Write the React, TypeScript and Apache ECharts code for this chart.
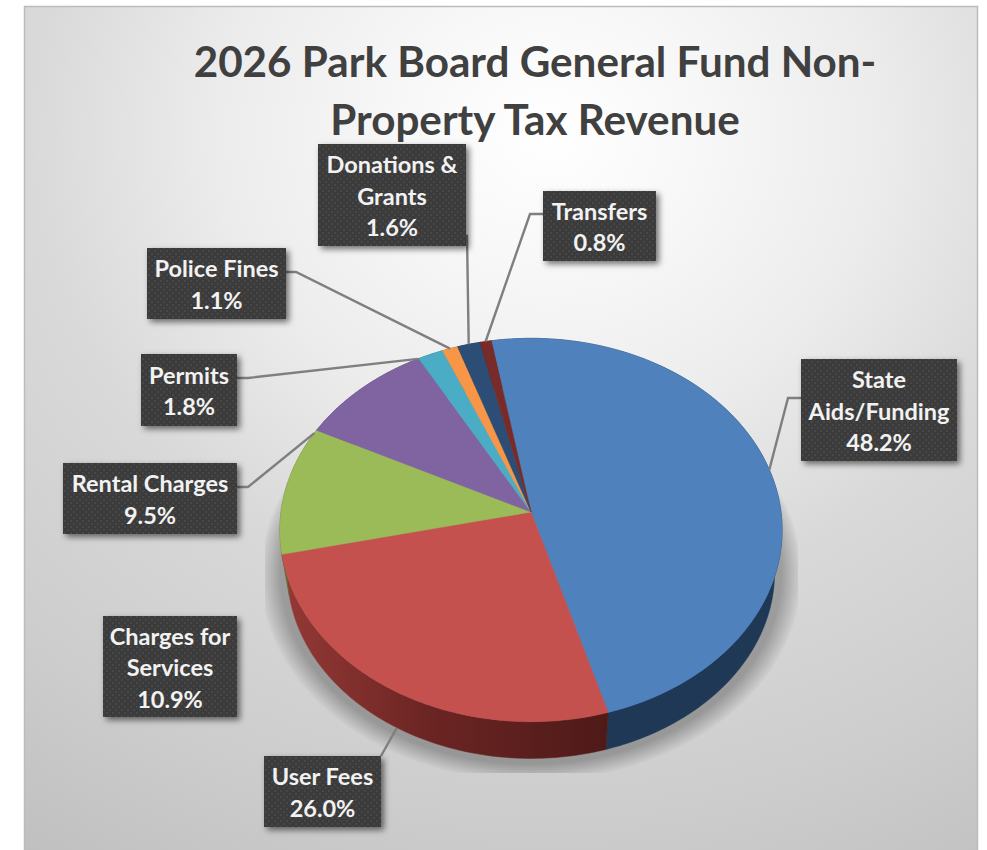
import React, { useEffect, useRef } from "react";
import * as echarts from "echarts";

// ---- data ----
const titleText = "2026 Park Board General Fund Non-\nProperty Tax Revenue";
const categories = ["State\nAids/Funding", "User Fees", "Charges for\nServices", "Rental Charges", "Permits", "Police Fines", "Donations &\nGrants", "Transfers"];
const percents = [48.2, 26.0, 10.9, 9.5, 1.8, 1.1, 1.6, 0.8];

// ---- styles ----
const topColors = ["#4f81bd", "#c5514e", "#9bbb59", "#8064a2", "#4bacc6", "#f79646", "#2c4d75", "#772c2a"];
const sideColors: any[] = [
  "#1e3856",
  new echarts.graphic.LinearGradient(0, 0, 1, 0, [
    { offset: 0, color: "#953936" },
    { offset: 0.45, color: "#6b2523" },
    { offset: 1, color: "#4e1a18" },
  ]),
  "#5d7038", "#4d3c61", "#2d6777", "#94592a", "#1a2e46", "#471a19",
];
// box: x, y, w, h; elbow: where the leader bends; lower: leader goes to the lower rim; anchor: rim angle override
const labelLayout: any[] = [
  { box: [801, 359, 156, 102], from: [801, 398], elbow: [788, 398] },
  { box: [264, 756, 117, 71], from: [381, 756], lower: true },
  { box: [103, 616, 134, 101] },
  { box: [63, 463, 174, 71], from: [237, 487], elbow: [248, 487], anchor: 295.6 },
  { box: [141, 354, 96, 72], from: [237, 378], elbow: [248, 378], anchor: 330.7 },
  { box: [147, 248, 139, 71], from: [286, 272], elbow: [296, 272] },
  { box: [318, 144, 148, 102], from: [466, 236], elbow: [467, 236] },
  { box: [543, 191, 113, 70], from: [543, 214], elbow: [530, 214] },
];

// ---- tilted pie geometry (a disc under a perspective) ----
const startAngle = -10;
const cx = 531, cy = 512, A = 250, B = 190, K = 0.094;
const sideScale = 0.97, sideDrop = 43;
const shadowScales = [1.0, 1.006, 1.012, 1.018, 1.024, 1.03, 1.036, 1.042, 1.048, 1.054, 1.06, 1.066, 1.072, 1.078];
const shadowClip = { left: 265, right: 798, bottom: 773 };

const total = percents.reduce((a, b) => a + b, 0);
const bounds: number[] = [startAngle];
percents.forEach((p) => bounds.push(bounds[bounds.length - 1] + (p / total) * 360));

function rim(deg: number, s = 1, dy = 0): number[] {
  const t = (deg * Math.PI) / 180;
  const u = Math.sin(t), v = -Math.cos(t), w = 1 - K * v;
  return [cx + (s * A * u) / w, cy + dy + (s * B * v) / w];
}
function arc(a0: number, a1: number, s = 1, dy = 0): number[][] {
  const n = Math.max(4, Math.ceil(Math.abs(a1 - a0)));
  const out: number[][] = [];
  for (let i = 0; i <= n; i++) out.push(rim(a0 + ((a1 - a0) * i) / n, s, dy));
  return out;
}

function dotPattern(): any {
  const c = document.createElement("canvas");
  c.width = 6; c.height = 6;
  const g = c.getContext("2d")!;
  g.fillStyle = "#3a3a3a"; g.fillRect(0, 0, 6, 6);
  g.fillStyle = "#474747";
  g.fillRect(1, 1, 2, 2);
  g.fillRect(4, 4, 2, 2);
  return { image: c, repeat: "repeat" };
}

export default function App() {
  const ref = useRef<HTMLDivElement>(null);
  useEffect(() => {
    const chart = echarts.init(ref.current!, null, { renderer: "svg" });
    const pattern = dotPattern();
    const font = "Lato, 'Open Sans', sans-serif";
    const pieData = percents.map((p, i) => ({ name: categories[i].replace("\n", " "), value: p }));
    chart.setOption({
      animation: false,
      tooltip: { show: false },
      title: {
        text: titleText, left: 530, top: 26, textAlign: "center", z: 1,
        textStyle: { fontFamily: font, fontSize: 42.2, fontWeight: 700, color: "#404040", lineHeight: 58 },
      },
      graphic: [{
        type: "rect", z: 0, silent: true, shape: { x: 24.5, y: 6.5, width: 953, height: 850 },
        style: {
          stroke: "#bcbcbc", lineWidth: 1.5,
          fill: new echarts.graphic.RadialGradient(0.55, 0.15, 1.05, [
            { offset: 0, color: "#ffffff" },
            { offset: 0.14, color: "#f8f8f8" },
            { offset: 0.33, color: "#ececec" },
            { offset: 0.52, color: "#d9d9d9" },
            { offset: 0.76, color: "#cdcdcd" },
            { offset: 1, color: "#bdbdbd" },
          ]),
        },
      }],
      series: [
        {
          type: "custom", coordinateSystem: "none", z: 2, silent: true, data: [total],
          renderItem: () => ({
            type: "group",
            children: shadowScales.map((s) => ({
              type: "polygon",
              shape: {
                points: arc(0, 360, s, sideDrop).map(([x, y]) => [
                  Math.min(shadowClip.right, Math.max(shadowClip.left, x)),
                  Math.min(shadowClip.bottom, y),
                ]),
              },
              style: { fill: "rgba(0,0,0,0.02)" },
            })),
          }),
        },
        {
          type: "custom", coordinateSystem: "none", z: 3, silent: true, data: pieData,
          renderItem: (p: any) => {
            const i = p.dataIndex;
            const top = arc(bounds[i], bounds[i + 1]);
            const bottom = arc(bounds[i], bounds[i + 1], sideScale, sideDrop).reverse();
            return { type: "polygon", shape: { points: top.concat(bottom) }, style: { fill: sideColors[i], stroke: sideColors[i], lineWidth: 0.5 } };
          },
        },
        {
          type: "custom", coordinateSystem: "none", z: 4, silent: true, data: pieData,
          renderItem: (p: any) => {
            const i = p.dataIndex;
            return { type: "polygon", shape: { points: [[cx, cy], ...arc(bounds[i], bounds[i + 1])] }, style: { fill: topColors[i], stroke: topColors[i], lineWidth: 0.5 } };
          },
        },
        {
          type: "custom", coordinateSystem: "none", z: 5, silent: true, data: pieData,
          renderItem: (p: any) => {
            const i = p.dataIndex;
            const l = labelLayout[i];
            const mid = l.anchor ?? (bounds[i] + bounds[i + 1]) / 2;
            const end = l.lower ? rim(mid, sideScale, sideDrop) : rim(mid);
            const children: any[] = [];
            if (l.from) {
              const pts = l.elbow ? [l.from, l.elbow, end] : [l.from, end];
              children.push({ type: "polyline", shape: { points: pts }, style: { stroke: "#7f7f7f", lineWidth: 2.4, fill: "none" } });
            }
            const [x, y, w, h] = l.box;
            children.push({
              type: "rect", shape: { x, y, width: w, height: h },
              style: { fill: pattern, shadowBlur: 6, shadowOffsetX: 3, shadowOffsetY: 3, shadowColor: "rgba(0,0,0,0.55)" },
            });
            children.push({
              type: "text",
              style: {
                x: x + w / 2, y: y + h / 2 + 0.5, align: "center", verticalAlign: "middle",
                text: `${categories[i]}\n${percents[i].toFixed(1)}%`,
                fill: "#f2f2f2", fontFamily: font, fontWeight: 700, fontSize: 23.5, lineHeight: 31.5,
              },
            });
            return { type: "group", children };
          },
        },
      ],
    });
    return () => chart.dispose();
  }, []);
  return <div ref={ref} style={{ position: "absolute", left: 0, top: 0, width: 987, height: 850 }} />;
}
